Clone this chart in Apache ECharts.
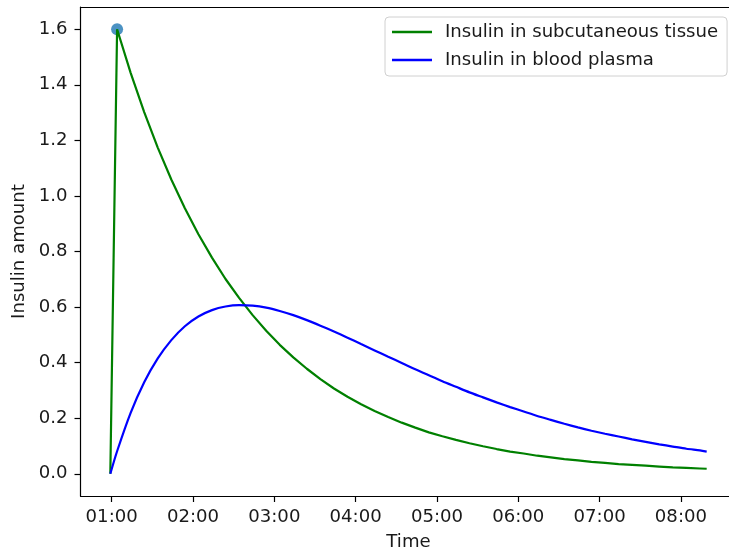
<!DOCTYPE html>
<html>
<head>
<meta charset="utf-8">
<script src="https://cdn.jsdelivr.net/npm/echarts@6/dist/echarts.min.js"></script>
<style>
  html, body { margin: 0; padding: 0; background: #fff; overflow: hidden; }
  #chart { width: 729px; height: 555px; }
</style>
</head>
<body>
<div id="chart"></div>
<script>
// Sample times (clock time) for both compartments
const times = [
  '00:59', '01:04', '01:14', '01:24', '01:34', '01:44', '01:54',
  '02:04', '02:14', '02:24', '02:34', '02:44', '02:54',
  '03:04', '03:14', '03:24', '03:34', '03:44', '03:54',
  '04:04', '04:14', '04:24', '04:34', '04:44', '04:54',
  '05:04', '05:14', '05:24', '05:34', '05:44', '05:54',
  '06:04', '06:14', '06:24', '06:34', '06:44', '06:54',
  '07:04', '07:14', '07:24', '07:34', '07:44', '07:54',
  '08:04', '08:14', '08:19'
];

// Insulin in subcutaneous tissue
const subcutaneous = [
  0.000, 1.600, 1.443, 1.302, 1.174, 1.059, 0.956,
  0.862, 0.778, 0.701, 0.633, 0.571, 0.515,
  0.464, 0.419, 0.378, 0.341, 0.307, 0.277,
  0.250, 0.226, 0.204, 0.184, 0.166, 0.149,
  0.135, 0.122, 0.110, 0.099, 0.089, 0.080,
  0.073, 0.065, 0.059, 0.053, 0.048, 0.043,
  0.039, 0.035, 0.032, 0.029, 0.026, 0.023,
  0.021, 0.019, 0.018
];

// Insulin in blood plasma
const plasma = [
  0.000, 0.081, 0.219, 0.329, 0.415, 0.481, 0.531,
  0.566, 0.589, 0.602, 0.607, 0.605, 0.598,
  0.586, 0.571, 0.553, 0.533, 0.512, 0.490,
  0.467, 0.444, 0.421, 0.399, 0.376, 0.355,
  0.333, 0.313, 0.293, 0.275, 0.257, 0.240,
  0.224, 0.208, 0.194, 0.180, 0.167, 0.155,
  0.144, 0.134, 0.124, 0.115, 0.106, 0.098,
  0.090, 0.084, 0.080
];

// Injection marker
const doseTime = '01:04';
const doseAmount = 1.6;

const xTicks = ['01:00', '02:00', '03:00', '04:00', '05:00', '06:00', '07:00', '08:00'];
const yTicks = [0.0, 0.2, 0.4, 0.6, 0.8, 1.0, 1.2, 1.4, 1.6];

const toMin = s => { const p = s.split(':'); return (+p[0]) * 60 + (+p[1]); };
const fmtClock = m => {
  const h = Math.floor(m / 60), mm = Math.round(m - h * 60);
  return String(h).padStart(2, '0') + ':' + String(mm).padStart(2, '0');
};

const tMin = times.map(toMin);
const xFirst = tMin[0], xLast = tMin[tMin.length - 1];
const xPad = (xLast - xFirst) * 0.05;
const yPad = (doseAmount - 0) * 0.05;

const font = 'DejaVu Sans';
const fontSize = 18.1;
const textColor = '#1a1a1a';
const spine = { color: '#000', width: 1.2 };

const chart = echarts.init(document.getElementById('chart'), null, { renderer: 'canvas' });
chart.setOption({
  animation: false,
  backgroundColor: '#fff',
  grid: {
    left: 80.5, top: 7, width: 656, height: 489,
    outerBoundsMode: 'none',
    show: false,
    containLabel: false
  },
  legend: {
    orient: 'vertical',
    left: 385, top: 17,
    padding: [5, 9, 6, 7],
    itemGap: 8,
    itemWidth: 40, itemHeight: 2.5,
    icon: 'rect',
    backgroundColor: '#fff',
    borderColor: '#d0d0d0', borderWidth: 1, borderRadius: 4,
    textStyle: { fontFamily: font, fontSize: fontSize, color: textColor, lineHeight: 20, padding: [0, 0, 0, 8] },
    data: ['Insulin in subcutaneous tissue', 'Insulin in blood plasma']
  },
  xAxis: [
    {
      type: 'value', position: 'bottom',
      min: xFirst - xPad, max: xLast + xPad,
      name: 'Time', nameLocation: 'middle', nameGap: 37,
      nameTextStyle: { fontFamily: font, fontSize: fontSize, color: textColor },
      axisLine: { show: true, onZero: false, lineStyle: spine },
      axisTick: { show: true, length: 6, lineStyle: spine, customValues: xTicks.map(toMin) },
      axisLabel: { fontFamily: font, fontSize: fontSize, color: textColor, margin: 12,
        customValues: xTicks.map(toMin), formatter: v => fmtClock(v) },
      splitLine: { show: false }
    },
    {
      // top spine of the plot frame
      type: 'value', position: 'top',
      min: xFirst - xPad, max: xLast + xPad,
      axisLine: { show: true, onZero: false, lineStyle: spine },
      axisTick: { show: false }, axisLabel: { show: false }, splitLine: { show: false }
    }
  ],
  yAxis: {
    type: 'value',
    min: 0 - yPad, max: doseAmount + yPad,
    name: 'Insulin amount', nameLocation: 'middle', nameGap: 52,
    nameTextStyle: { fontFamily: font, fontSize: fontSize, color: textColor },
    axisLine: { show: true, onZero: false, lineStyle: spine },
    axisTick: { show: true, length: 6, lineStyle: spine, customValues: yTicks },
    axisLabel: { fontFamily: font, fontSize: fontSize, color: textColor, margin: 13,
      customValues: yTicks, formatter: v => v.toFixed(1) },
    splitLine: { show: false }
  },
  series: [
    {
      name: 'dose', type: 'scatter', z: 1,
      symbolSize: 12,
      itemStyle: { color: '#1f77b4' },
      data: [[toMin(doseTime), doseAmount]]
    },
    {
      name: 'Insulin in subcutaneous tissue', type: 'line', z: 3,
      showSymbol: false, color: '#008000',
      lineStyle: { color: '#008000', width: 2.2 },
      data: tMin.map((t, i) => [t, subcutaneous[i]])
    },
    {
      name: 'Insulin in blood plasma', type: 'line', z: 3,
      showSymbol: false, color: '#0000ff', smooth: 0.25,
      lineStyle: { color: '#0000ff', width: 2.2 },
      data: tMin.map((t, i) => [t, plasma[i]])
    }
  ]
});
</script>
</body>
</html>
